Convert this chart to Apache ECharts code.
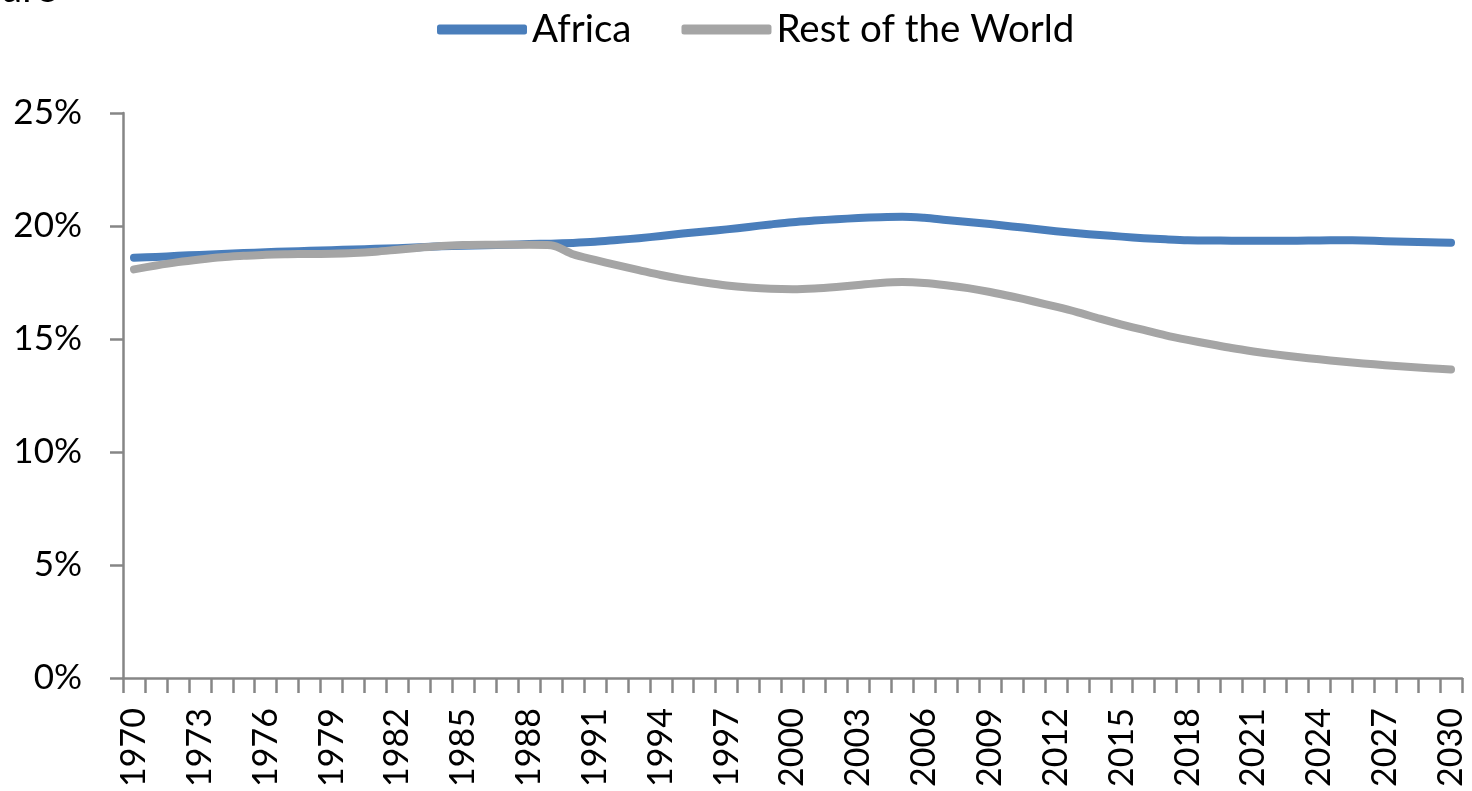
<!DOCTYPE html>
<html>
<head>
<meta charset="utf-8">
<script src="https://cdn.jsdelivr.net/npm/echarts@6/dist/echarts.min.js"></script>
<style>
html,body{margin:0;padding:0;background:#fff;}
#chart{width:1472px;height:791px;}
</style>
</head>
<body>
<div id="chart"></div>
<script>
const years = [];
for (let y = 1970; y <= 2030; y++) years.push(String(y));

const africa = [
  18.60, 18.63, 18.68, 18.72, 18.76, 18.80, 18.84, 18.87, 18.90, 18.93,
  18.96, 18.99, 19.02, 19.06, 19.10, 19.13, 19.15, 19.17, 19.20, 19.22,
  19.25, 19.30, 19.38, 19.46, 19.56, 19.67, 19.76, 19.85, 19.96, 20.07,
  20.17, 20.24, 20.30, 20.35, 20.39, 20.41, 20.36, 20.27, 20.18, 20.09,
  19.98, 19.88, 19.77, 19.68, 19.60, 19.53, 19.46, 19.41, 19.37, 19.36,
  19.35, 19.35, 19.35, 19.35, 19.36, 19.37, 19.36, 19.33, 19.30, 19.28,
  19.26
];

const restOfWorld = [
  18.08, 18.25, 18.40, 18.52, 18.62, 18.68, 18.73, 18.75, 18.76, 18.77,
  18.80, 18.86, 18.95, 19.04, 19.12, 19.16, 19.17, 19.17, 19.17, 19.15,
  18.75, 18.50, 18.27, 18.05, 17.83, 17.65, 17.50, 17.37, 17.28, 17.22,
  17.20, 17.23, 17.30, 17.39, 17.48, 17.52, 17.48, 17.38, 17.25, 17.08,
  16.88, 16.66, 16.43, 16.18, 15.90, 15.64, 15.40, 15.16, 14.96, 14.78,
  14.60, 14.45, 14.32, 14.20, 14.10, 14.00, 13.92, 13.84, 13.77, 13.71,
  13.65
];

const seriesNames = ['Africa', 'Rest of the World'];
const topFragment = 'ure';

const FONT = 'Lato';
const AXIS = '#868686';

const chart = echarts.init(document.getElementById('chart'));
chart.setOption({
  backgroundColor: '#ffffff',
  animation: false,
  graphic: [{
    type: 'text', left: 0, top: -31,
    style: { text: topFragment, font: '40px ' + FONT, fill: '#000' }
  }],
  legend: {
    data: seriesNames,
    top: 5,
    left: 432,
    itemWidth: 90,
    itemHeight: 10,
    itemGap: 50,
    icon: 'roundRect',
    textStyle: { fontFamily: FONT, fontSize: 38.5, color: '#000', padding: [0, 0, 0, 0] }
  },
  grid: { left: 123, right: 10, top: 113, bottom: 113, containLabel: false },
  xAxis: {
    type: 'category',
    data: years,
    boundaryGap: true,
    axisLine: { lineStyle: { color: AXIS, width: 2.5 } },
    axisTick: { show: true, interval: 0, length: 15, lineStyle: { color: AXIS, width: 2.5 } },
    axisLabel: { interval: 2, rotate: 90, fontFamily: FONT, fontSize: 34, color: '#000', margin: 30 },
    splitLine: { show: false }
  },
  yAxis: {
    type: 'value',
    min: 0, max: 25, interval: 5,
    axisLine: { show: true, lineStyle: { color: AXIS, width: 2.5 } },
    axisTick: { show: true, length: 13, lineStyle: { color: AXIS, width: 2.5 } },
    axisLabel: { formatter: '{value}%', fontFamily: FONT, fontSize: 35, color: '#000', margin: 41 },
    splitLine: { show: false }
  },
  series: [
    {
      name: seriesNames[0], type: 'line', data: africa, smooth: 0.3,
      showSymbol: false, symbol: 'none',
      lineStyle: { color: '#4a7ebb', width: 8, cap: 'round', join: 'round' },
      itemStyle: { color: '#4a7ebb' }
    },
    {
      name: seriesNames[1], type: 'line', data: restOfWorld, smooth: 0.3,
      showSymbol: false, symbol: 'none',
      lineStyle: { color: '#a5a5a5', width: 8, cap: 'round', join: 'round' },
      itemStyle: { color: '#a5a5a5' }
    }
  ]
});
</script>
</body>
</html>
